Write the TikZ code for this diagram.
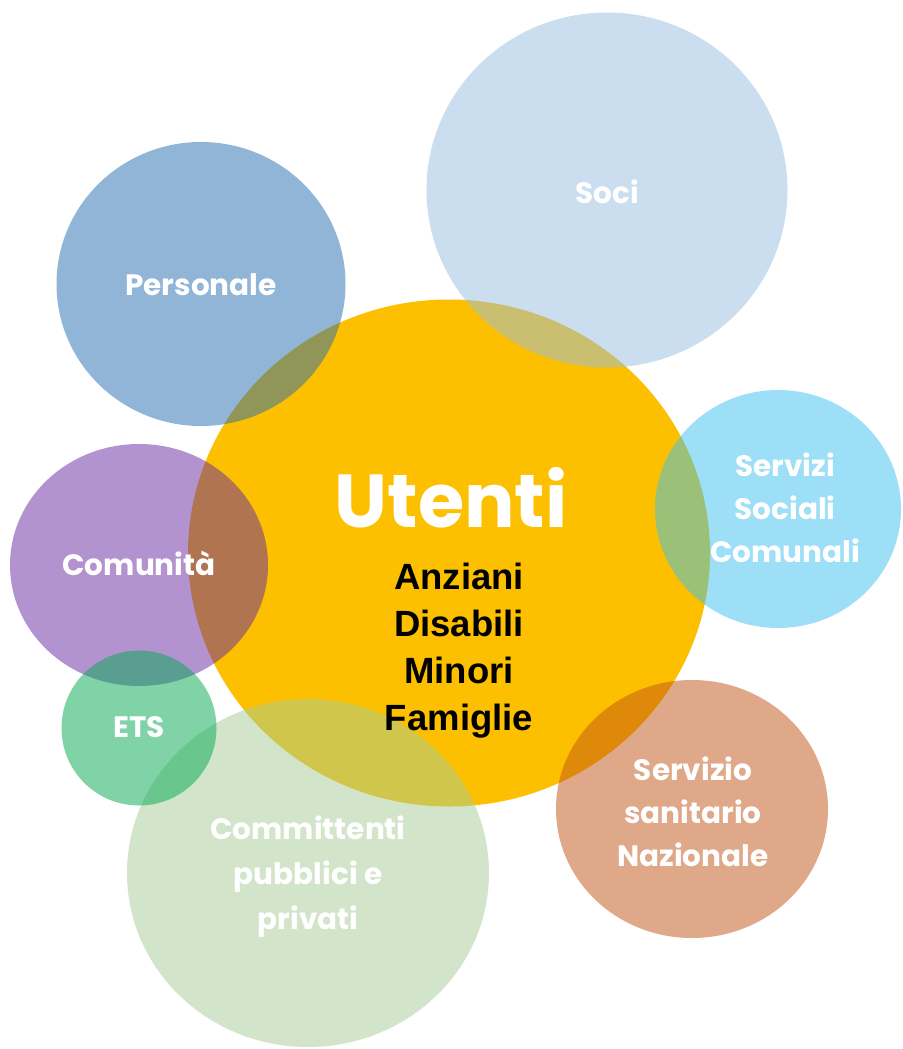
\documentclass[tikz,border=0pt]{standalone}
\usepackage{fontspec}
\setmainfont{Liberation Sans}
\newfontfamily\gothic{Poppins}
\usetikzlibrary{shapes.geometric}

\definecolor{utentiorange}{RGB}{252,192,0}
\definecolor{socicol}{RGB}{153,191,225}
\definecolor{personalecol}{RGB}{37,109,177}
\definecolor{servizicol}{RGB}{59,193,241}
\definecolor{comunitacol}{RGB}{103,41,163}
\definecolor{etscol}{RGB}{1,169,81}
\definecolor{committenticol}{RGB}{167,205,153}
\definecolor{sanitariocol}{RGB}{193,83,21}

\begin{document}
\begin{tikzpicture}[x=1pt,y=-1pt,
                    bubble/.style={ellipse,inner sep=0pt,fill opacity=0.5},
                    white label/.style={text=white,align=center,
                      font=\gothic\bfseries\fontsize{29.5}{43}\selectfont}]
  \fill[white] (0,0) rectangle (902,1049);
  \useasboundingbox (0,0) rectangle (902,1049);

  % circles
  \node[ellipse,inner sep=0pt,fill=utentiorange,minimum width=522pt,minimum height=507pt] (utenti) at (449,553) {};
  \node[bubble,fill=socicol,minimum width=361pt,minimum height=355pt] (soci) at (607,190) {};
  \node[bubble,fill=personalecol,minimum width=289pt,minimum height=284pt] (personale) at (201,284) {};
  \node[bubble,fill=servizicol,minimum width=246pt,minimum height=238pt] (servizi) at (778,509) {};
  \node[bubble,fill=comunitacol,minimum width=258pt,minimum height=242pt] (comunita) at (139,565) {};
  \node[bubble,fill=committenticol,minimum width=362pt,minimum height=348pt] (committenti) at (308,873) {};
  \node[bubble,fill=etscol,minimum width=155pt,minimum height=155pt] (ets) at (139,728) {};
  \node[bubble,fill=sanitariocol,minimum width=272pt,minimum height=258pt] (sanitario) at (692,809) {};

  % labels
  \node[white label] (socitext) at (607,192) {Soci};
  \node[white label] (personaletext) at (201,285) {Personale};
  \node[white label] (servizitext) at (785,508) {Servizi\\Sociali\\Comunali};
  \node[white label] (comunitatext) at (139,563) {Comunità};
  \node[white label] (etstext) at (139,727) {ETS};
  \node[white label,font=\gothic\bfseries\fontsize{29.5}{45}\selectfont] (committentitext) at (308,877)
    {Committenti\\pubblici e\\privati};
  \node[white label] (sanitariotext) at (693,812) {Servizio\\sanitario\\Nazionale};
  \node[text=white,font=\gothic\bfseries\fontsize{75}{80}\selectfont] (utentitext) at (451,498) {Utenti};
  \node[align=center,font=\bfseries\fontsize{36.5}{47}\selectfont] (gruppi) at (459,651)
    {Anziani\\Disabili\\Minori\\Famiglie};
\end{tikzpicture}
\end{document}
